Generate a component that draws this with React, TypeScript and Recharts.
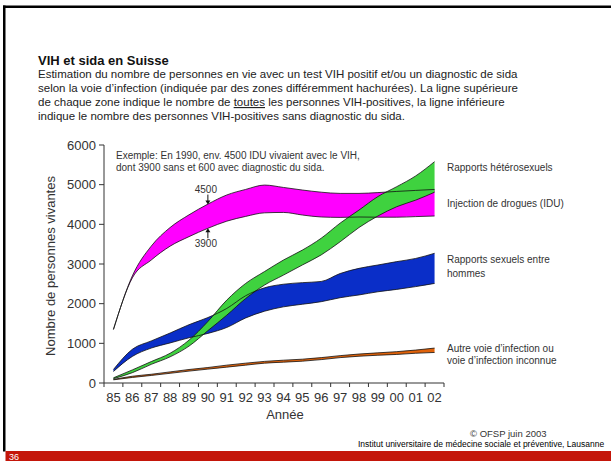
import React from 'react';
import { ComposedChart, Area, Line, XAxis, YAxis, ReferenceLine } from 'recharts';

// ---- Data ----
const years = [1985, 1986, 1987, 1988, 1989, 1990, 1991, 1992, 1993, 1994, 1995, 1996, 1997, 1998, 1999, 2000, 2001, 2002];
const xTickLabels = ['85', '86', '87', '88', '89', '90', '91', '92', '93', '94', '95', '96', '97', '98', '99', '00', '01', '02'];
const yTicks = [0, 1000, 2000, 3000, 4000, 5000, 6000];

// Injection de drogues (IDU): upper = all HIV+, lower = without AIDS diagnosis
const iduHi = [1350, 2700, 3450, 3920, 4240, 4510, 4740, 4880, 4990, 4930, 4865, 4810, 4780, 4780, 4800, 4830, 4855, 4880];
const iduLo = [1350, 2650, 3100, 3450, 3690, 3900, 4080, 4200, 4290, 4300, 4235, 4185, 4175, 4185, 4180, 4180, 4195, 4210];
// Rapports sexuels entre hommes
const msmHi = [340, 850, 1060, 1260, 1470, 1650, 1880, 2200, 2400, 2490, 2530, 2560, 2760, 2890, 2975, 3060, 3140, 3270];
const msmLo = [290, 670, 880, 1010, 1140, 1250, 1400, 1640, 1810, 1920, 1985, 2050, 2150, 2220, 2300, 2360, 2430, 2510];
// Rapports hétérosexuels
const hetHi = [130, 330, 540, 750, 1080, 1550, 2090, 2510, 2810, 3100, 3350, 3650, 4030, 4360, 4700, 4950, 5220, 5580];
const hetLo = [110, 260, 470, 660, 930, 1320, 1710, 2130, 2470, 2720, 2975, 3230, 3560, 3920, 4210, 4445, 4610, 4810];
// Autre voie d'infection ou inconnue
const othHi = [90, 170, 220, 280, 340, 390, 450, 500, 545, 575, 600, 640, 690, 730, 760, 790, 830, 880];
const othLo = [80, 140, 190, 245, 300, 350, 400, 450, 500, 525, 550, 590, 640, 675, 700, 720, 750, 770];

// Example annotation values
const exampleYear = 1990;
const exampleHi = 4500;
const exampleLo = 3900;

const data = years.map((year, i) => ({
  year,
  iduHi: iduHi[i], iduLo: iduLo[i],
  msmHi: msmHi[i], msmLo: msmLo[i],
  hetHi: hetHi[i], hetLo: hetLo[i],
  othHi: othHi[i], othLo: othLo[i],
}));

const xDomain = [years[0] - 0.5, years[years.length - 1] + 0.5];
const xTicks: number[] = [];
years.forEach((y) => { xTicks.push(y - 0.5); xTicks.push(y); });
xTicks.push(years[years.length - 1] + 0.5);

const FONT = '"Liberation Sans", Arial, Helvetica, sans-serif';
const TXT = '#333';

const XTick = (props: any) => {
  const { x, y, payload } = props;
  const idx = years.indexOf(payload.value);
  if (idx >= 0) {
    return (
      <text x={x} y={y + 19} textAnchor="middle" fontSize={13} fill={TXT} fontFamily={FONT}>
        {xTickLabels[idx]}
      </text>
    );
  }
  return <line x1={x} x2={x} y1={y} y2={y + 4} stroke={TXT} strokeWidth={1} />;
};

const ArrowDown = (label: string) => (p: any) => {
  const { x1, y1, x2, y2 } = p;
  return (
    <g>
      <line x1={x1} y1={y1} x2={x2} y2={y2 - 3} stroke="#111" strokeWidth={1} />
      <path d={`M${x2 - 2.5},${y2 - 4} L${x2 + 2.5},${y2 - 4} L${x2},${y2} Z`} fill="#111" />
      <text x={x1 - 2} y={y1 - 2} textAnchor="middle" fontSize={10} fill={TXT} fontFamily={FONT}>{label}</text>
    </g>
  );
};

const ArrowUp = (label: string) => (p: any) => {
  const { x1, y1, x2, y2 } = p;
  return (
    <g>
      <line x1={x1} y1={y1} x2={x2} y2={y2 + 3} stroke="#111" strokeWidth={1} />
      <path d={`M${x2 - 2.5},${y2 + 4} L${x2 + 2.5},${y2 + 4} L${x2},${y2} Z`} fill="#111" />
      <text x={x1 - 2} y={y1 + 9} textAnchor="middle" fontSize={10} fill={TXT} fontFamily={FONT}>{label}</text>
    </g>
  );
};

const bands = [
  { lo: 'iduLo', hi: 'iduHi', color: '#ff00ff' },
  { lo: 'msmLo', hi: 'msmHi', color: '#0a2ec8' },
  { lo: 'hetLo', hi: 'hetHi', color: '#3fd23f' },
  { lo: 'othLo', hi: 'othHi', color: '#e0620a' },
];

export default function App() {
  return (
    <div style={{ position: 'absolute', left: 0, top: 0, width: 611, height: 461, background: '#fff', overflow: 'hidden' }}>
      <div style={{ position: 'absolute', left: 0, top: 0 }}>
        <ComposedChart width={611} height={461} data={data} margin={{ top: 145, right: 167, bottom: 48, left: 54 }}>
          <XAxis
            dataKey="year"
            type="number"
            domain={xDomain}
            ticks={xTicks}
            interval={0}
            tickLine={false}
            tickSize={0}
            tickMargin={0}
            tick={<XTick />}
            axisLine={{ stroke: TXT, strokeWidth: 1 }}
            height={30}
            allowDataOverflow
          />
          <YAxis
            type="number"
            domain={[0, 6000]}
            ticks={yTicks}
            interval={0}
            width={50}
            tickSize={5}
            tickMargin={3}
            tick={{ fontSize: 13, fill: TXT, fontFamily: FONT }}
            tickLine={{ stroke: TXT }}
            axisLine={{ stroke: TXT, strokeWidth: 1 }}
          />
          {bands.map((b) => (
            <Area
              key={b.hi + 'a'}
              type="monotone"
              dataKey={(d: any) => [d[b.lo], d[b.hi]]}
              fill={b.color}
              fillOpacity={1}
              stroke="none"
              dot={false}
              activeDot={false}
              isAnimationActive={false}
            />
          ))}
          {bands.map((b) => [
            <Line key={b.hi} type="monotone" dataKey={b.hi} stroke="#111" strokeWidth={0.8} dot={false} activeDot={false} isAnimationActive={false} />,
            <Line key={b.lo} type="monotone" dataKey={b.lo} stroke="#111" strokeWidth={0.8} dot={false} activeDot={false} isAnimationActive={false} />,
          ])}
          <ReferenceLine
            segment={[{ x: exampleYear, y: exampleHi + 250 }, { x: exampleYear, y: exampleHi }]}
            shape={ArrowDown(String(exampleHi))}
          />
          <ReferenceLine
            segment={[{ x: exampleYear, y: exampleLo - 250 }, { x: exampleYear, y: exampleLo }]}
            shape={ArrowUp(String(exampleLo))}
          />
        </ComposedChart>
      </div>
      <svg width={611} height={461} style={{ position: 'absolute', left: 0, top: 0, pointerEvents: 'none' }} fontFamily={FONT}>
        {/* frame */}
        <rect x={3} y={5.5} width={608} height={2.5} fill="#000" />
        <rect x={3} y={5.5} width={2.5} height={446} fill="#000" />
        <rect x={5.5} y={451} width={606} height={10} fill="#c4160a" />
        <text x={9} y={459.5} fontSize={9} fill="#fff">36</text>

        {/* title */}
        <text x={38} y={65} fontSize={13} fontWeight="bold" fill="#111">VIH et sida en Suisse</text>
        <g fontSize={11.5} fill="#222">
          <text x={38} y={78}>Estimation du nombre de personnes en vie avec un test VIH positif et/ou un diagnostic de sida</text>
          <text x={38} y={92}>selon la voie d’infection (indiquée par des zones différemment hachurées). La ligne supérieure</text>
          <text x={38} y={106}>
            de chaque zone indique le nombre de <tspan textDecoration="underline" style={{ textDecoration: 'underline' }}>toutes</tspan> les personnes VIH-positives, la ligne inférieure
          </text>
          <text x={38} y={120}>indique le nombre des personnes VIH-positives sans diagnostic du sida.</text>
        </g>

        {/* example */}
        <g fontSize={10} fill={TXT}>
          <text x={116} y={159}>Exemple: En 1990, env. 4500 IDU vivaient avec le VIH,</text>
          <text x={116} y={170.5}>dont 3900 sans et 600 avec diagnostic du sida.</text>
        </g>

        {/* right labels */}
        <g fontSize={10} fill={TXT}>
          <text x={447} y={171}>Rapports hétérosexuels</text>
          <text x={447} y={207}>Injection de drogues (IDU)</text>
          <text x={447} y={263}>Rapports sexuels entre</text>
          <text x={447} y={277}>hommes</text>
          <text x={447} y={352}>Autre voie d’infection ou</text>
          <text x={447} y={364}>voie d’infection inconnue</text>
        </g>

        {/* axis titles */}
        <text x={55} y={266} transform="rotate(-90 55 266)" textAnchor="middle" fontSize={13} fill={TXT}>Nombre de personnes vivantes</text>
        <text x={285} y={419} textAnchor="middle" fontSize={13} fill={TXT}>Année</text>

        {/* footer */}
        <text x={470} y={437} fontSize={9.5} fill={TXT}>© OFSP juin 2003</text>
        <text x={358} y={447} fontSize={8.5} fill="#000">Institut universitaire de médecine sociale et préventive, Lausanne</text>
      </svg>
    </div>
  );
}
